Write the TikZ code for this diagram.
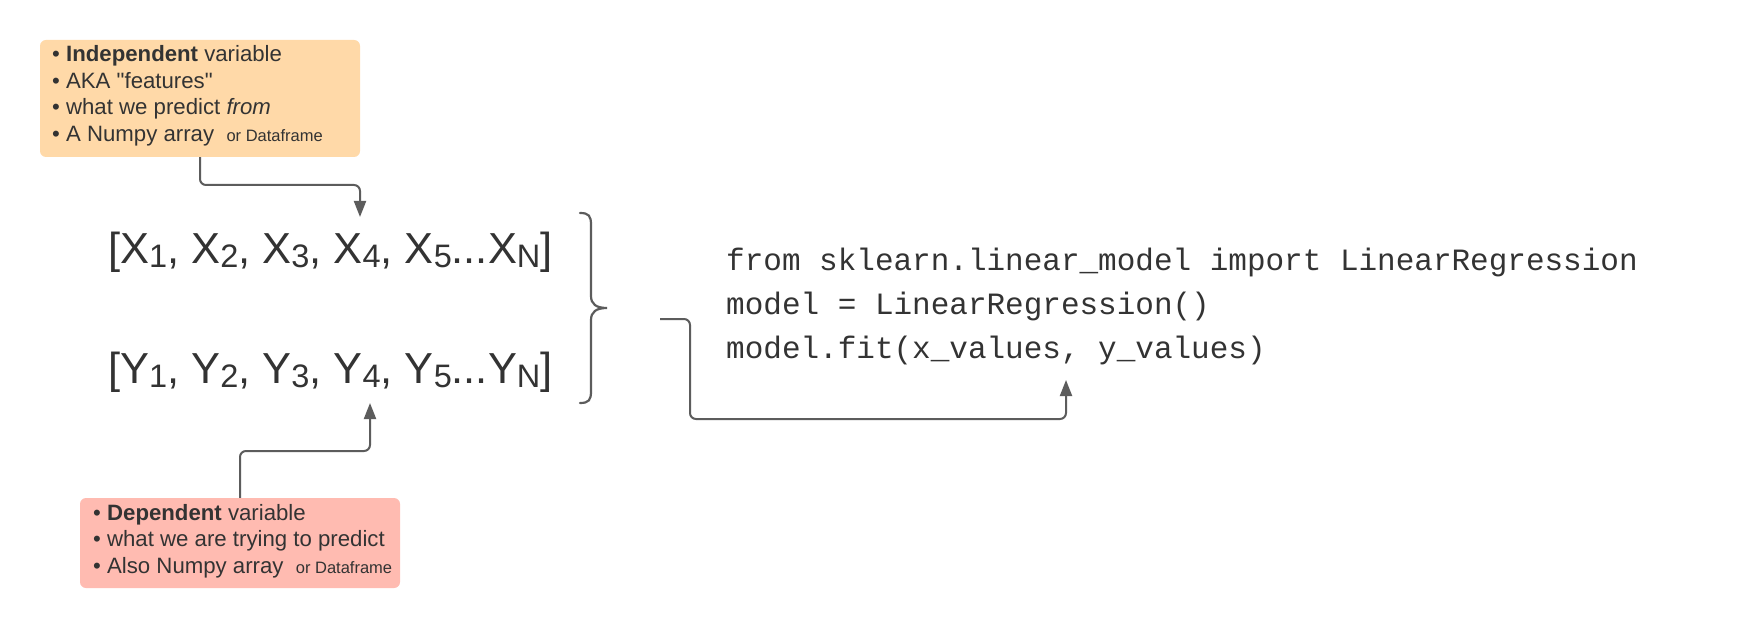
\documentclass[tikz,border=0pt]{standalone}
\usepackage{fontspec}
\setmainfont{Liberation Sans}[Ligatures=TeXOff]
\setmonofont{Liberation Mono}
\usetikzlibrary{arrows.meta}
\definecolor{txt}{HTML}{333333}
\definecolor{ln}{HTML}{5C5C5C}
\definecolor{orangefill}{HTML}{FFD9A8}
\definecolor{redfill}{HTML}{FFBBB1}
\newcommand{\mysub}[1]{\raisebox{-4pt}{\fontsize{32.5}{36}\selectfont #1}}
\newcommand{\smallnote}[1]{{\fontsize{16.5}{18}\selectfont #1}}
\tikzset{
  boxline/.style={anchor=base west, inner sep=0pt, text=txt, font=\fontsize{22.2}{26}\selectfont},
  arrtext/.style={anchor=base west, inner sep=0pt, text=txt, font=\fontsize{43.4}{50}\selectfont},
  codeline/.style={anchor=base west, inner sep=0pt, text=txt, font=\ttfamily\fontsize{31}{36}\selectfont},
  notebox/.style={rectangle, rounded corners=6pt, draw=none, inner sep=0pt},
  conn/.style={draw=ln, line width=2pt, rounded corners=6pt, -{Triangle[length=16pt,width=12pt]}},
  bracestyle/.style={draw=ln, line width=2.2pt, line cap=round},
}
\begin{document}
\begin{tikzpicture}[x=1pt,y=-1pt]
\useasboundingbox[fill=white] (0,0) rectangle (1760,628);

% orange box
\node[notebox, fill=orangefill, minimum width=320pt, minimum height=117pt] (indep) at (200,98.5) {};
\node[boxline] (i1) at (52,62) {• \textbf{Independent} variable};
\node[boxline] (i2) at (52,88.5) {• AKA "features"};
\node[boxline] (i3) at (52,115) {• what we predict \textit{from}};
\node[boxline] (i4) at (52,141.5) {• A Numpy array \ \smallnote{or Dataframe}};

% red box
\node[notebox, fill=redfill, minimum width=320pt, minimum height=90pt] (dep) at (240,543) {};
\node[boxline] (d1) at (93,520) {• \textbf{Dependent} variable};
\node[boxline] (d2) at (93,546.5) {• what we are trying to predict};
\node[boxline] (d3) at (93,573) {• Also Numpy array \ \smallnote{or Dataframe}};

% arrays
\node[arrtext] (xarr) at (108,263) {[X\mysub{1}, X\mysub{2}, X\mysub{3}, X\mysub{4}, X\mysub{5}...X\mysub{N}]};
\node[arrtext] (yarr) at (108,383) {[Y\mysub{1}, Y\mysub{2}, Y\mysub{3}, Y\mysub{4}, Y\mysub{5}...Y\mysub{N}]};

% code
\node[codeline] (c1) at (726,270) {from sklearn.linear\_model import LinearRegression};
\node[codeline] (c2) at (726,314) {model = LinearRegression()};
\node[codeline] (c3) at (726,358) {model.fit(x\_values, y\_values)};

% brace
\draw[bracestyle] (580,213) .. controls (589,213) and (591,216) .. (591,225)
  -- (591,296) .. controls (591,304) and (596,308) .. (607,308)
  .. controls (596,308) and (591,312) .. (591,320)
  -- (591,391) .. controls (591,400) and (589,403) .. (580,403);

% connectors
\coordinate (xtip) at (360,217);
\coordinate (ytip) at (370,403);
\coordinate (bstart) at (660,319);
\coordinate (ctip) at (1066,380);
\draw[conn] (indep.south) -- (200,185) -- (360,185) -- (xtip);
\draw[conn] (dep.north) -- (240,451) -- (370,451) -- (ytip);
\draw[conn] (bstart) -- (690,319) -- (690,419) -- (1066,419) -- (ctip);
\end{tikzpicture}
\end{document}
